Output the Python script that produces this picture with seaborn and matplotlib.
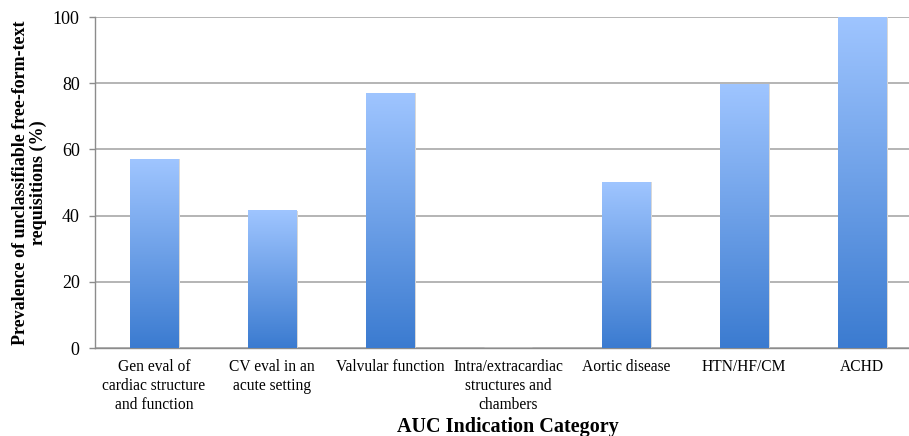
import numpy as np
import pandas as pd
import matplotlib
matplotlib.use("Agg")
import matplotlib.pyplot as plt
import seaborn as sns
from matplotlib.colors import LinearSegmentedColormap

# Chart data
categories = [
    "Gen eval of\ncardiac structure\nand function",
    "CV eval in an\nacute setting",
    "Valvular function",
    "Intra/extracardiac\nstructures and\nchambers",
    "Aortic disease",
    "HTN/HF/CM",
    "ACHD",
]
prevalence = [57, 41.5, 77, 0, 50, 79.7, 100]
y_ticks = [0, 20, 40, 60, 80, 100]

df = pd.DataFrame({"category": categories, "prevalence": prevalence})

sns.set_theme(style="white")
plt.rcParams["font.family"] = ["Liberation Serif", "DejaVu Serif"]
plt.rcParams["text.color"] = "black"
plt.rcParams["axes.labelcolor"] = "black"

fig = plt.figure(figsize=(9.09, 4.36), dpi=100)
ax = fig.add_axes([95 / 909, 1 - 348 / 436, 826 / 909, 331 / 436])

sns.barplot(data=df, x="category", y="prevalence", ax=ax, color="#4a86d6",
            width=0.41, zorder=2)

# vertical gradient fill for each bar
grad = LinearSegmentedColormap.from_list("g", ["#3b7bd0", "#9fc5ff"])
for p in ax.patches:
    x0, y0 = p.get_x(), p.get_y()
    w, h = p.get_width(), p.get_height()
    if h <= 0:
        continue
    img = np.linspace(0, 1, 256).reshape(-1, 1)
    ax.imshow(img, cmap=grad, origin="lower", aspect="auto",
              extent=[x0, x0 + w, y0, y0 + h], zorder=3, vmin=0, vmax=1)
    # soft shadow on the right
    ax.fill_between([x0 + w, x0 + w + 0.015], y0, y0 + h, color="#d8d8d8", zorder=1.5, lw=0)
    p.set_visible(False)

ax.set_xlim(-0.5, len(categories) - 0.5)
ax.set_ylim(0, 100)
ax.set_yticks(y_ticks)
ax.yaxis.grid(True, color="#a0a0a0", linewidth=1.1, zorder=0)
ax.set_axisbelow(True)

for s in ["top", "right"]:
    ax.spines[s].set_visible(False)
for s in ["left", "bottom"]:
    ax.spines[s].set_color("#8c8c8c")
    ax.spines[s].set_linewidth(1.0)

ax.set_xticks(np.arange(len(categories)))
ax.set_xticklabels(categories, fontsize=11.2, linespacing=1.25)
ax.set_xticks(np.arange(len(categories) + 1) - 0.5, minor=True)
ax.tick_params(axis="x", which="major", length=0, pad=8, labelcolor="black")
ax.tick_params(axis="x", which="minor", length=4, width=1, color="#8c8c8c", direction="out")
ax.tick_params(axis="y", which="major", length=4, width=1, color="#8c8c8c",
               direction="out", labelsize=13, pad=7, left=True, labelcolor="black")

ax.set_xlabel("AUC Indication Category", fontsize=14.5, fontweight="bold", va="top")
ax.xaxis.set_label_coords(0.5, -69 / 331)
ax.set_ylabel("Prevalence of unclassifiable free-form-text\nrequisitions (%)",
              fontsize=13, fontweight="bold", labelpad=4, linespacing=1.05)

fig.savefig("out.png", dpi=100)
